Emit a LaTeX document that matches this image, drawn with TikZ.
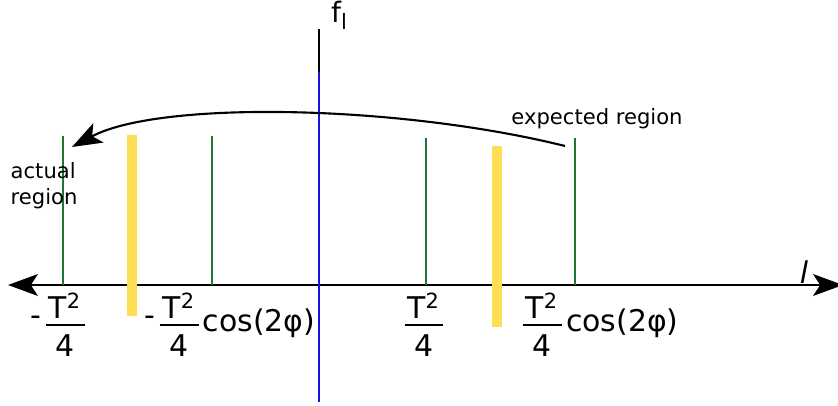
\documentclass[tikz,border=0pt]{standalone}
\usepackage{amsmath}
\usepackage{fontspec}
\setmainfont{DejaVu Sans}
\usetikzlibrary{arrows.meta}
\definecolor{TickGreen}{RGB}{30,120,50}
\definecolor{AxisBlue}{RGB}{20,20,220}
\definecolor{BandYellow}{RGB}{255,221,85}
\newcommand{\tqfrac}{\ensuremath{\genfrac{}{}{0.6pt}{1}{\mbox{\rule[-0.8pt]{0pt}{1pt}\kern0.8pt T\textsuperscript{2}\kern0.8pt}}{\mbox{\rule{0pt}{8.2pt}4}}}}
\newcommand{\mns}{\raisebox{.2em}{-}}

\begin{document}
\begin{tikzpicture}[
    x=0.01cm,y=-0.01cm,
    >={Stealth[length=8.5pt,width=6.2pt,inset=2pt]},
    ax/.style={<->,line width=0.6pt},
    tk/.style={TickGreen,line width=0.6pt},
    band/.style={fill=BandYellow,draw=none},
    lbl/.style={font=\fontsize{8.5}{10}\selectfont,inner sep=0pt},
    sm/.style={font=\fontsize{6}{7.2}\selectfont,inner sep=0pt}
  ]
  \useasboundingbox (0,0) rectangle (838,406);

  % axes
  \draw[ax] (8,285) -- (843,285);
  \draw[line width=0.6pt] (319,29) -- (319,72);

  % regions
  \foreach \x/\t in {63/136,212/136,426/138,575/138}
    \draw[tk] (\x,\t) -- (\x,285);
  \fill[band] (127,135) rectangle (137,316);
  \fill[band] (492,146) rectangle (502,327);
  \draw[AxisBlue,line width=0.6pt] (319,72) -- (319,402);

  \node[font=\fontsize{8}{9.6}\selectfont,inner sep=0pt,anchor=base] (fl) at (340,23) {f\textsubscript{l}};
  \node[lbl,anchor=base] (ll) at (804,284) {\textit{l}};

  % tick labels
  \node[lbl,anchor=mid west] (n1) at (30,322) {\mns\tqfrac};
  \node[lbl,anchor=mid west] (n2) at (144,322) {\mns\tqfrac cos(2φ)};
  \node[lbl,anchor=mid] (p1) at (424,322) {\tqfrac};
  \node[lbl,anchor=mid west] (p2) at (518,322) {\tqfrac cos(2φ)};

  \node[sm,anchor=base] (exp) at (597,125) {expected region};
  \node[sm,anchor=north west,align=left] (act) at (10,162) {actual\\region};

  % shift arrow
  \coordinate (cs) at (565,146);
  \coordinate (ce) at (72,147);
  \draw[line width=0.6pt,->] (cs) .. controls (400,105) and (160,100) .. (ce);
\end{tikzpicture}
\end{document}
